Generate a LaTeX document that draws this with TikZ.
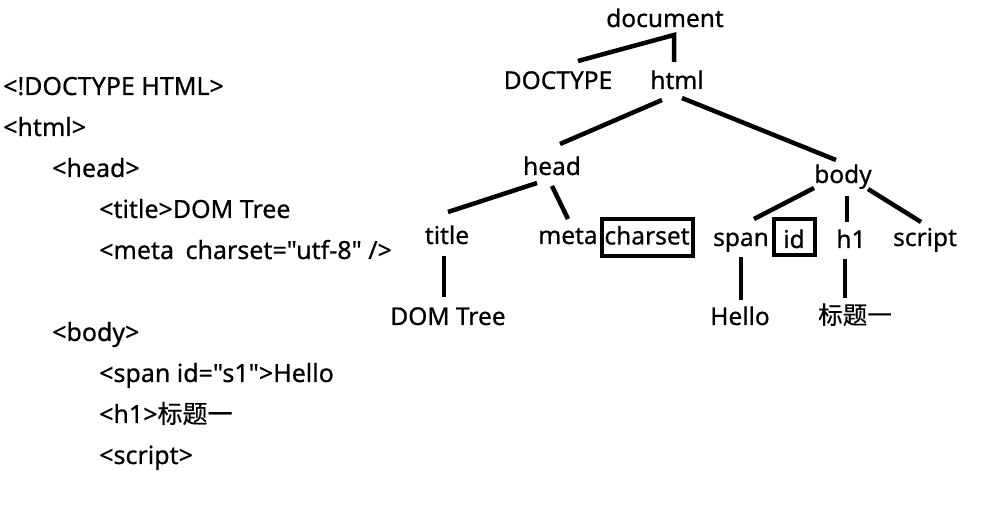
\documentclass[tikz,border=0pt]{standalone}
\usepackage{fontspec}
\setmainfont{Noto Sans}[Ligatures=TeXOff,FakeBold=0.6]
\newfontfamily\cjk{Noto Sans CJK SC}[FakeBold=0.4]
\usetikzlibrary{calc}
\newcommand{\sq}{{\char34}}
\begin{document}
\begin{tikzpicture}[x=1pt,y=-1pt,
  codeline/.style={anchor=base west,inner sep=0pt,font=\fontsize{25}{28}\selectfont},
  tnode/.style={anchor=center,inner sep=0pt,text height=17pt,text depth=5pt,font=\fontsize{24.5}{28}\selectfont},
  boxed/.style={draw,line width=4pt},
  edge/.style={line width=4.5pt}]
\useasboundingbox[fill=white] (0,0) rectangle (986,518);
% code listing
\node[codeline] (c1) at (3,95) {<!DOCTYPE HTML>};
\node[codeline] (c2) at (3,136) {<html>};
\node[codeline] (c3) at (52,177) {<head>};
\node[codeline] (c4) at (99,218) {<title>DOM Tree};
\node[codeline] (c5) at (99,259) {<meta\hspace{5pt} charset=\sq utf-8\sq\ />};
\node[codeline] (c6) at (52,341) {<body>};
\node[codeline] (c7) at (99,382) {<span id=\sq s1\sq>Hello};
\node[codeline] (c8) at (99,423) {<h1>{\cjk 标题一}};
\node[codeline] (c9) at (99,464) {<script>};
% tree
\node[tnode] (document) at (665,21) {document};
\node[tnode] (DOCTYPE) at (558,83) {DOCTYPE};
\node[tnode] (html) at (677,83) {html};
\node[tnode] (head) at (552,169) {head};
\node[tnode] (body) at (843,177) {body};
\node[tnode] (title) at (447,238) {title};
\node[tnode] (meta) at (568,238) {meta};
\node[tnode,boxed,minimum width=91pt,minimum height=37pt,text height=17pt,text depth=4pt] (charset) at (647,238) {charset};
\node[tnode] (span) at (741,240) {span};
\node[tnode,boxed,minimum width=41pt,minimum height=36pt,text height=22pt,text depth=0pt] (id) at (794,237) {id};
\node[tnode] (h1) at (851,242) {h1};
\node[tnode] (script) at (925,240) {script};
\node[tnode] (domtree) at (448,319) {DOM Tree};
\node[tnode] (hello) at (740,319) {Hello};
\node[tnode,font=\fontsize{24.5}{28}\selectfont\cjk] (biaoti) at (855,318) {标题一};
% connectors
\draw[edge] ($(DOCTYPE)+(20,-22)$) -- ($(document)+(9,14)$) -- ($(html)+(-3,-21)$);
\draw[edge] ($(html)+(-15,17)$) -- ($(head)+(8,-25)$);
\draw[edge] ($(html)+(5,15)$) -- ($(body)+(-7,-17)$);
\draw[edge] ($(head)+(-15,14)$) -- ($(title)+(1,-26)$);
\draw[edge] ($(head)+(0,17)$) -- ($(meta)+(0,-19)$);
\draw[edge] ($(title)+(-3,18)$) -- ($(domtree)+(-4,-22)$);
\draw[edge] ($(body)+(-29,11)$) -- ($(span)+(13,-21)$);
\draw[edge] ($(body)+(4,19)$) -- ($(h1)+(-4,-20)$);
\draw[edge] ($(body)+(25,12)$) -- ($(script)+(-4,-18)$);
\draw[edge] ($(span)+(0,17)$) -- ($(hello)+(1,-19)$);
\draw[edge] ($(h1)+(-6,17)$) -- ($(biaoti)+(-10,-20)$);
\end{tikzpicture}
\end{document}
